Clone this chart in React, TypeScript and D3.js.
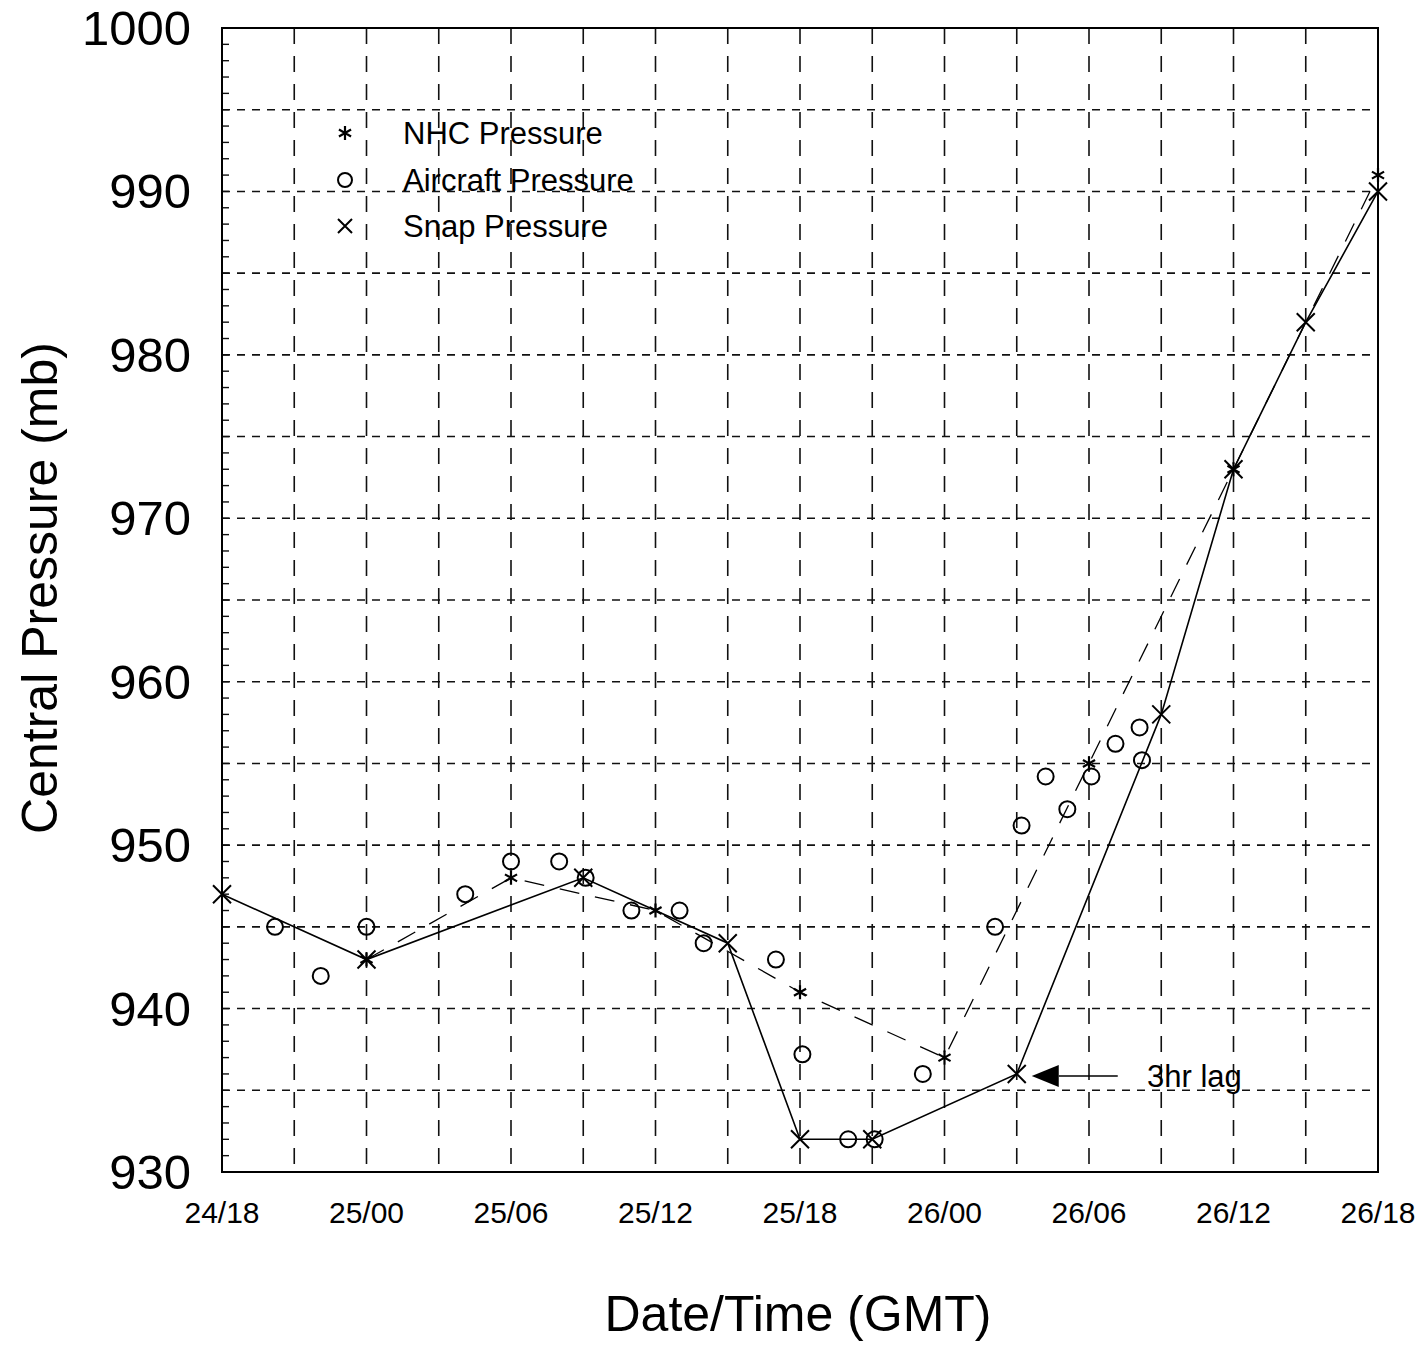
import React, { useRef, useEffect } from 'react';
import * as d3 from 'd3';

// hours after 24/18 GMT
const xTickLabels = ["24/18", "25/00", "25/06", "25/12", "25/18", "26/00", "26/06", "26/12", "26/18"];
const yTickValues = [930, 940, 950, 960, 970, 980, 990, 1000];

const snapHours = [0, 6, 15, 21, 24, 27, 33, 39, 42, 45, 48];
const snapPressure = [947, 943, 948, 944, 932, 932, 936, 958, 973, 982, 990];

const nhcHours = [6, 12, 18, 24, 30, 36, 42, 48];
const nhcPressure = [943, 948, 946, 941, 937, 955, 973, 991];

const aircraftHours = [2.2, 4.1, 6, 10.1, 12, 14, 15.1, 17, 19, 20, 23, 24.1, 26, 27.1, 29.1, 32.1, 33.2, 34.2, 35.1, 36.1, 37.1, 38.1, 38.2];
const aircraftPressure = [945, 942, 945, 947, 949, 949, 948, 946, 946, 944, 943, 937.2, 932, 932, 936, 945, 951.2, 954.2, 952.2, 954.2, 956.2, 957.2, 955.2];

const legendItems = ["NHC Pressure", "Aircraft Pressure", "Snap Pressure"];

const FONT = "'Liberation Sans', Arial, sans-serif";

function PressureChart() {
  const svgRef = useRef(null);

  useEffect(() => {
    const svg = d3.select(svgRef.current);
    svg.selectAll("*").remove();

    const width = 1428;
    const height = 1346;
    const margin = { top: 28, right: 50, bottom: 174, left: 222 };

    const x = d3.scaleLinear()
      .domain([0, 48])
      .range([margin.left, width - margin.right]);

    const y = d3.scaleLinear()
      .domain([930, 1000])
      .range([height - margin.bottom, margin.top]);

    svg.attr("width", width).attr("height", height);

    svg.append("rect")
      .attr("width", width).attr("height", height)
      .attr("fill", "white");

    // horizontal grid every 5 mb
    svg.append("g")
      .selectAll("line")
      .data(d3.range(935, 1000, 5))
      .enter()
      .append("line")
      .attr("x1", x(0)).attr("x2", x(48))
      .attr("y1", d => y(d)).attr("y2", d => y(d))
      .attr("stroke", "#111")
      .attr("stroke-width", 1.6)
      .attr("stroke-dasharray", "8,7");

    // vertical grid every 3 hours
    svg.append("g")
      .selectAll("line")
      .data(d3.range(3, 48, 3))
      .enter()
      .append("line")
      .attr("x1", d => x(d)).attr("x2", d => x(d))
      .attr("y1", y(1000)).attr("y2", y(930))
      .attr("stroke", "#111")
      .attr("stroke-width", 1.6)
      .attr("stroke-dasharray", "16,12");

    // minor ticks on left axis every 1 mb
    svg.append("g")
      .selectAll("line")
      .data(d3.range(931, 1000, 1))
      .enter()
      .append("line")
      .attr("x1", x(0)).attr("x2", x(0) + 7)
      .attr("y1", d => y(d)).attr("y2", d => y(d))
      .attr("stroke", "#111")
      .attr("stroke-width", 1.4);

    // frame
    svg.append("rect")
      .attr("x", x(0)).attr("y", y(1000))
      .attr("width", x(48) - x(0))
      .attr("height", y(930) - y(1000))
      .attr("fill", "none")
      .attr("stroke", "#000")
      .attr("stroke-width", 2);

    // y tick labels
    svg.append("g")
      .selectAll("text")
      .data(yTickValues)
      .enter()
      .append("text")
      .attr("x", 191)
      .attr("y", d => y(d) + 17)
      .attr("text-anchor", "end")
      .style("font-family", FONT)
      .style("font-size", "49px")
      .text(d => d);

    // x tick labels
    svg.append("g")
      .selectAll("text")
      .data(xTickLabels)
      .enter()
      .append("text")
      .attr("x", (d, i) => x(i * 6))
      .attr("y", 1223)
      .attr("text-anchor", "middle")
      .style("font-family", FONT)
      .style("font-size", "30px")
      .text(d => d);

    svg.append("text")
      .attr("x", 798)
      .attr("y", 1331)
      .attr("text-anchor", "middle")
      .style("font-family", FONT)
      .style("font-size", "50px")
      .text("Date/Time (GMT)");

    svg.append("text")
      .attr("transform", "translate(57, 588) rotate(-90)")
      .attr("text-anchor", "middle")
      .style("font-family", FONT)
      .style("font-size", "50px")
      .text("Central Pressure (mb)");

    const nhc = nhcHours.map((h, i) => [h, nhcPressure[i]]);
    const snap = snapHours.map((h, i) => [h, snapPressure[i]]);
    const line = d3.line().x(d => x(d[0])).y(d => y(d[1]));

    // NHC dashed line
    svg.append("path")
      .datum(nhc)
      .attr("d", line)
      .attr("fill", "none")
      .attr("stroke", "#000")
      .attr("stroke-width", 1.3)
      .attr("stroke-dasharray", "20,16");

    // snap solid line
    svg.append("path")
      .datum(snap)
      .attr("d", line)
      .attr("fill", "none")
      .attr("stroke", "#000")
      .attr("stroke-width", 1.6);

    const drawCross = (g, cx, cy, s) => {
      g.append("path")
        .attr("d", `M${cx - s},${cy - s}L${cx + s},${cy + s}M${cx - s},${cy + s}L${cx + s},${cy - s}`)
        .attr("stroke", "#000")
        .attr("stroke-width", 2)
        .attr("fill", "none");
    };
    const drawStar = (g, cx, cy, s) => {
      const p = [];
      for (let k = 0; k < 3; k++) {
        const a = Math.PI / 2 + k * Math.PI / 3;
        p.push(`M${cx - s * Math.cos(a)},${cy - s * Math.sin(a)}L${cx + s * Math.cos(a)},${cy + s * Math.sin(a)}`);
      }
      g.append("path")
        .attr("d", p.join(""))
        .attr("stroke", "#000")
        .attr("stroke-width", 2.2)
        .attr("fill", "none");
    };
    const drawCircle = (g, cx, cy, r) => {
      g.append("circle")
        .attr("cx", cx).attr("cy", cy).attr("r", r)
        .attr("fill", "none")
        .attr("stroke", "#000")
        .attr("stroke-width", 2);
    };

    const marks = svg.append("g");
    aircraftHours.forEach((h, i) => drawCircle(marks, x(h), y(aircraftPressure[i]), 8));
    nhc.forEach(d => drawStar(marks, x(d[0]), y(d[1]), 7));
    snap.forEach(d => drawCross(marks, x(d[0]), y(d[1]), 9));

    // legend
    const legend = svg.append("g");
    const rows = [133, 180, 226];
    drawStar(legend, 345, rows[0], 7);
    drawCircle(legend, 345, rows[1], 7);
    drawCross(legend, 345, rows[2], 7);
    legend.selectAll("text")
      .data(legendItems)
      .enter()
      .append("text")
      .attr("x", 403)
      .attr("y", (d, i) => rows[i] + 11)
      .style("font-family", FONT)
      .style("font-size", "31px")
      .text(d => d);

    // 3hr lag annotation
    const ax = x(33) + 15;
    const ay = y(936) + 2;
    svg.append("path")
      .attr("d", `M${ax},${ay}L${ax + 27},${ay - 11}L${ax + 27},${ay + 11}Z`)
      .attr("fill", "#000");
    svg.append("line")
      .attr("x1", ax + 27).attr("x2", ax + 86)
      .attr("y1", ay).attr("y2", ay)
      .attr("stroke", "#000")
      .attr("stroke-width", 1.6);
    svg.append("text")
      .attr("x", 1147)
      .attr("y", ay + 11)
      .style("font-family", FONT)
      .style("font-size", "31px")
      .text("3hr lag");
  }, []);

  return <svg ref={svgRef} style={{ position: "absolute", left: 0, top: 0 }}></svg>;
}

export default function App() {
  return <PressureChart />;
}
